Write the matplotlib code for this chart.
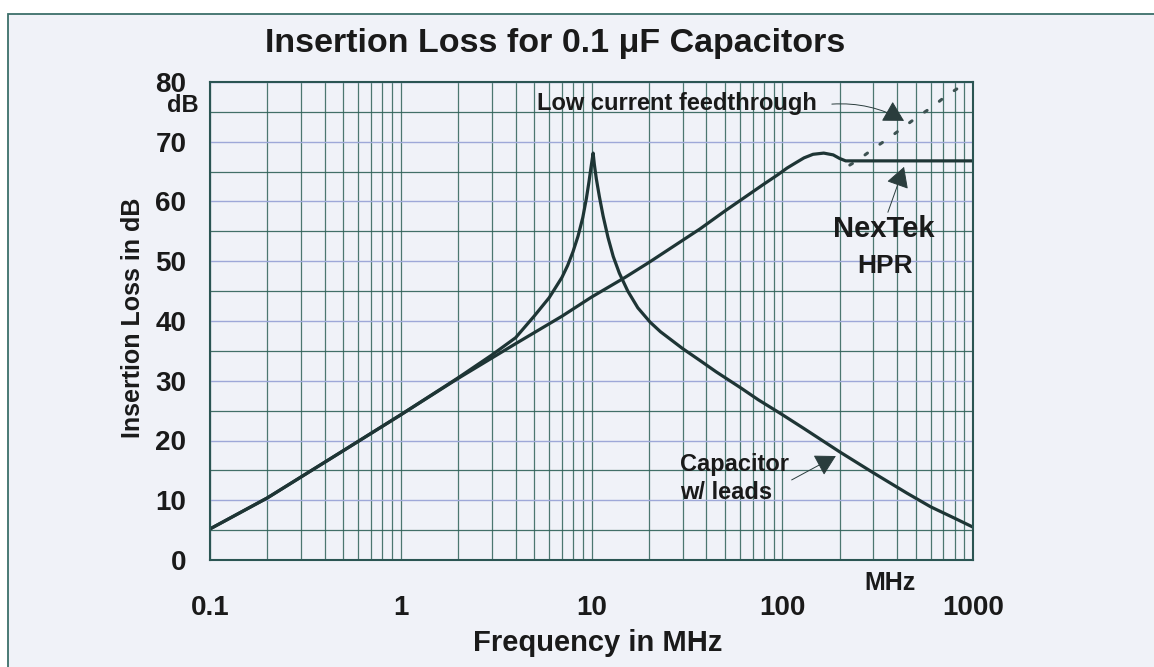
import matplotlib
matplotlib.use("Agg")
import matplotlib.pyplot as plt
from matplotlib.patches import Rectangle

plt.rcParams['font.family'] = ['Liberation Sans', 'DejaVu Sans']
plt.rcParams['font.weight'] = 'bold'

# NexTek HPR curve (MHz, dB)
hpr_freq = [0.1, 0.2, 0.5, 1, 2, 4, 7, 10, 15, 20, 37, 50, 80, 95, 106, 118, 130, 145, 165, 185, 200, 215, 300, 500, 1000]
hpr_db = [5.2, 10.4, 18.3, 24.3, 30.4, 36.2, 40.8, 44.0, 47.3, 49.8, 55.4, 58.4, 62.9, 64.5, 65.6, 66.5, 67.3, 67.9, 68.1, 67.8, 67.2, 66.8, 66.8, 66.8, 66.8]

# capacitor with leads, resonance near 10 MHz
cap_freq = [0.1, 0.2, 0.5, 1, 2, 3, 4, 5, 6, 7, 7.5, 8, 8.5, 9.0, 9.4, 9.7, 9.95, 10.2,
            10.35, 10.6, 11.0, 11.5, 12.2, 13.0, 14.0, 15.5, 17.5, 20.3, 23, 30, 37, 45, 60, 75, 97,
            130, 200, 300, 450, 600, 800, 1000]
cap_db = [5.2, 10.4, 18.3, 24.3, 30.5, 34.3, 37.2, 40.8, 43.9, 47.3, 49.3, 51.6, 54.2, 57.3, 60.5, 63.3, 65.8, 68.1,
          66.2, 63.8, 60.8, 57.6, 54.0, 50.8, 48.0, 45.0, 42.2, 39.8, 38.2, 35.4, 33.4, 31.5, 28.9, 26.8, 24.6,
          22.0, 18.1, 14.6, 11.2, 8.9, 7.0, 5.5]

# low current feedthrough (dotted)
low_freq = [226, 249, 299, 358, 508, 610, 731, 887]
low_db = [66.1, 66.9, 68.8, 70.5, 74.1, 75.8, 77.8, 79.5]

xticks = [0.1, 1, 10, 100, 1000]
xtick_labels = ['0.1', '1', '10', '100', '1000']
yticks = [0, 10, 20, 30, 40, 50, 60, 70, 80]

ink = '#1e3535'
grid_dark = '#2f6158'
grid_light = '#9ea8d8'

fig = plt.figure(figsize=(11.54, 6.67), dpi=100, facecolor='white')
fig.patches.append(Rectangle((8 / 1154, -0.1), 1.2, 1.1 - 14 / 667,
                             transform=fig.transFigure, facecolor='#f0f2f8',
                             edgecolor='#3c6f6a', lw=1.3, zorder=-10))

ax = fig.add_axes([210 / 1154, 1 - 560 / 667, 763 / 1154, 478 / 667])
ax.set_facecolor('none')
ax.set_xscale('log')
ax.set_xlim(0.1, 1000)
ax.set_ylim(0, 80)

ax.set_xticks(xticks)
ax.set_xticklabels(xtick_labels)
ax.set_yticks(yticks)
ax.set_yticks(range(5, 80, 10), minor=True)
ax.tick_params(axis='both', which='both', length=0)
ax.tick_params(axis='x', labelsize=20, pad=25)
ax.tick_params(axis='y', labelsize=20, pad=17)
for lab in ax.get_xticklabels() + ax.get_yticklabels():
    lab.set_fontweight('bold')
    lab.set_color('#1a1a1a')

# grid: vertical log lines + horizontal every 5 dB
ax.grid(True, axis='x', which='both', color=grid_dark, lw=0.9, alpha=0.85)
ax.grid(True, axis='y', which='major', color=grid_light, lw=1.0)
ax.grid(True, axis='y', which='minor', color=grid_dark, lw=0.9, alpha=0.9)
ax.set_axisbelow(True)
for s in ax.spines.values():
    s.set_color('#2b5553')
    s.set_linewidth(1.5)

ax.plot(hpr_freq, hpr_db, color=ink, lw=2.3, solid_capstyle='round', solid_joinstyle='round')
ax.plot(cap_freq, cap_db, color=ink, lw=2.3, solid_capstyle='round', solid_joinstyle='round')
ax.plot(low_freq, low_db, color='#3d5252', lw=2.2, linestyle=(0, (1, 5)),
        dash_capstyle='round', clip_on=False)

fig.suptitle('Insertion Loss for 0.1 \u03bcF Capacitors', x=0.481, y=0.9355,
             va='center', fontsize=24.5, fontweight='bold', color='#1a1a1a')

ax.set_xlabel('Frequency in MHz', fontsize=21, fontweight='bold', color='#1a1a1a')
ax.xaxis.label.set_va('center')
ax.xaxis.set_label_coords(0.5085, -0.174)
ax.set_ylabel('Insertion Loss in dB', fontsize=18, fontweight='bold', color='#1a1a1a')
ax.yaxis.label.set_va('center')
ax.yaxis.set_label_coords(-0.101, 0.506)

ax.text(-0.0144, 0.950, 'dB', transform=ax.transAxes, ha='right', va='center',
        fontsize=17, fontweight='bold', color='#1a1a1a')
ax.text(367, -3.85, 'MHz', ha='center', va='center', fontsize=18,
        fontweight='bold', color='#1a1a1a', clip_on=False)

ax.text(5.18, 76.4, 'Low current feedthrough', ha='left', va='center',
        fontsize=17, fontweight='bold', color='#1a1a1a')
ax.text(341, 55.4, 'NexTek', ha='center', va='center', fontsize=21,
        fontweight='bold', color='#1a1a1a')
ax.text(346, 49.2, 'HPR', ha='center', va='center', fontsize=19,
        fontweight='bold', color='#1a1a1a')
ax.text(29.1, 13.6, 'Capacitor\nw/ leads', ha='left', va='center', fontsize=17,
        fontweight='bold', color='#1a1a1a', linespacing=1.25)

arrow = dict(arrowstyle='-|>,head_length=0.8,head_width=0.45', color='#2a3d3d',
             lw=0.7, mutation_scale=16, shrinkA=0, shrinkB=0)
ax.annotate('', xy=(435, 73.5), xytext=(182, 76.3),
            arrowprops=dict(arrow, connectionstyle='arc3,rad=-0.15'))
ax.annotate('', xy=(435, 65.8), xytext=(358, 58.2), arrowprops=arrow)
ax.annotate('', xy=(191, 17.4), xytext=(112, 13.4), arrowprops=arrow)

fig.savefig('out.png', dpi=100, facecolor=fig.get_facecolor())
